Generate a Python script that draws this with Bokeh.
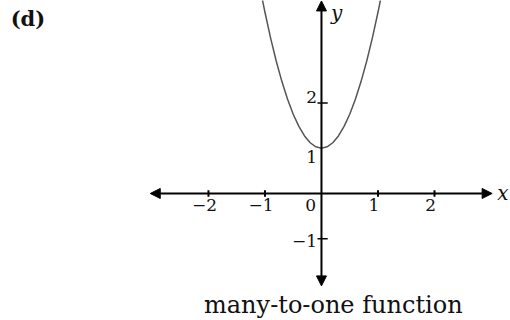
from bokeh.plotting import figure
from bokeh.models import Arrow, NormalHead, ColumnDataSource
from bokeh.core.properties import value
from bokeh.embed import file_html
from bokeh.resources import INLINE

# Points (many-to-one: each y above 1 comes from two x values)
curve_x = [-1.07, -1.0, -0.9, -0.8, -0.7, -0.6, -0.5, -0.4, -0.3, -0.2, -0.1, 0.0,
           0.1, 0.2, 0.3, 0.4, 0.5, 0.6, 0.7, 0.8, 0.9, 1.0, 1.07]
curve_y = [4.43, 4.0, 3.43, 2.92, 2.47, 2.08, 1.75, 1.48, 1.27, 1.12, 1.03, 1.0,
           1.03, 1.12, 1.27, 1.48, 1.75, 2.08, 2.47, 2.92, 3.43, 4.0, 4.43]

x_ticks = [-2, -1, 1, 2]
x_tick_labels = ["\u22122", "\u22121", "1", "2"]
y_ticks = [2, -1]
y_label_pos = [2, 1, -1]
y_labels = ["2", "1", "\u22121"]

SERIF = "DejaVu Serif"
INK = "#111111"

p = figure(width=510, height=320, output_backend="svg", toolbar_location=None,
           x_range=(-5.68, 3.345), y_range=(-2.804, 4.26), min_border=0)
p.axis.visible = False
p.grid.visible = False
p.outline_line_color = None
p.background_fill_color = "white"
p.border_fill_color = "white"

# Coordinate axes with arrowheads at both ends
for (x0, y0, x1, y1) in [(0, 0, 3.02, 0), (0, 0, -3.03, 0), (0, 0, 0, 4.25), (0, 0, 0, -2.04)]:
    p.add_layout(Arrow(end=NormalHead(size=10, fill_color="black", line_color="black"),
                       x_start=x0, y_start=y0, x_end=x1, y_end=y1,
                       line_width=2, line_color="black"))

# Tick marks
p.segment(x0=x_ticks, y0=[-0.07] * len(x_ticks), x1=x_ticks, y1=[0.07] * len(x_ticks),
          line_color="black", line_width=2)
p.segment(x0=[-0.07] * len(y_ticks), y0=y_ticks, x1=[0.11] * len(y_ticks), y1=y_ticks,
          line_color="black", line_width=1.5)

# The curve
p.line(curve_x, curve_y, line_color="#555555", line_width=1.5)

# Tick labels (y labels nudged: "2" sits above its tick, "1" below the vertex)
y_nudge = [0.13, -0.2, -0.04]
xs = ColumnDataSource(dict(x=[t - 0.07 for t in x_ticks], y=[-0.13] * len(x_ticks), t=x_tick_labels))
p.text(x="x", y="y", text="t", source=xs, text_font=value(SERIF), text_font_size="17px",
       text_align="center", text_baseline="top", text_color=INK)
p.text(x=[-0.19], y=[-0.13], text=["0"], text_font=value(SERIF), text_font_size="17px",
       text_align="center", text_baseline="top", text_color=INK)
ys = ColumnDataSource(dict(x=[-0.08] * len(y_label_pos),
                           y=[v + d for v, d in zip(y_label_pos, y_nudge)], t=y_labels))
p.text(x="x", y="y", text="t", source=ys, text_font=value(SERIF), text_font_size="17px",
       text_align="right", text_baseline="middle", text_color=INK)

# Axis names
p.text(x=[3.11], y=[0.0], text=["x"], text_font=value(SERIF), text_font_size="20px",
       text_font_style="italic", text_align="left", text_baseline="middle", text_color=INK)
p.text(x=[0.17], y=[4.25], text=["y"], text_font=value(SERIF), text_font_size="20px",
       text_font_style="italic", text_align="left", text_baseline="top", text_color=INK)

# Panel tag and caption
p.text(x=[-5.5], y=[3.86], text=["(d)"], text_font=value(SERIF), text_font_size="21px",
       text_font_style="bold", text_align="left", text_baseline="middle", text_color=INK)
p.text(x=[0.21], y=[-2.47], text=["many-to-one function"], text_font=value(SERIF),
       text_font_size="24px", text_align="center",
       text_baseline="middle", text_color=INK)

open("out.html", "w").write(file_html(p, INLINE))
